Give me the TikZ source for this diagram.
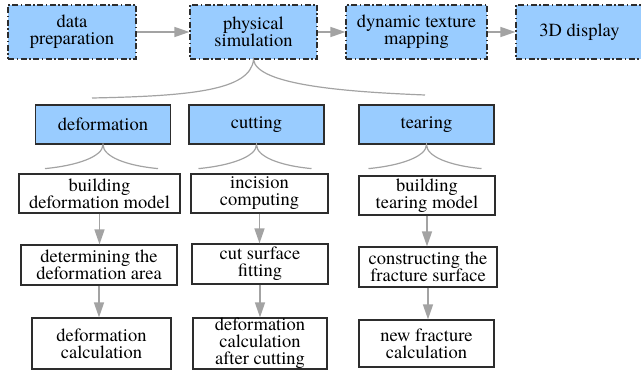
\documentclass[tikz,border=0pt]{standalone}
\usepackage{fontspec}
\setmainfont{texgyretermes}[Extension=.otf,UprightFont=*-regular,BoldFont=*-bold]
\usetikzlibrary{arrows.meta}
\definecolor{boxblue}{RGB}{153,204,255}
\definecolor{linkgray}{RGB}{163,163,163}
\definecolor{edgegray}{RGB}{45,45,45}

\tikzset{every picture/.style={line width=0.75pt}}
\tikzset{
  box/.style={draw=edgegray,line width=1.2pt,align=center,inner sep=0pt,font=\rmfamily\fontsize{18.5}{17}\selectfont},
  stage/.style={box,fill=boxblue,dash pattern=on 6pt off 2.5pt on 1.5pt off 2.5pt,minimum height=54pt},
  method/.style={box,fill=boxblue,minimum width=135pt,minimum height=39pt},
  task/.style={box,fill=white},
  link/.style={draw=linkgray,line width=1.5pt,-{Triangle[length=15pt,width=10pt]}},
  branch/.style={draw=linkgray,line width=1.2pt},
}

\begin{document}
\begin{tikzpicture}[x=1pt,y=-1pt]
	\useasboundingbox (0,0) rectangle (641,374);
	\clip (0,0) rectangle (641,374);
	% top row
	\node[stage,minimum width=128pt] (data) at (72,32) {data\\preparation};
	\node[stage,minimum width=127pt] (phys) at (253.5,32) {physical\\simulation};
	\node[stage,minimum width=141pt] (dyn) at (416.5,32) {dynamic texture\\mapping};
	\node[stage,minimum width=127pt] (disp) at (579.5,32) {3D display};
	\draw[link] (data) -- (phys);
	\draw[link] (phys) -- (dyn);
	\draw[link] (dyn) -- (disp);
	% split of the simulation
	\coordinate (sim-l) at (92,98);
	\coordinate (sim-r) at (425,95);
	\draw[branch] (sim-l) .. controls +(98,-2) and +(-3,31) .. (phys.south) .. controls +(3,26) and +(-75,-3) .. (sim-r);
	% methods
	\node[method] (def) at (103,124.5) {deformation};
	\node[method] (cut) at (256.5,124.5) {cutting};
	\node[method] (tear) at (426.5,124.5) {tearing};
	\foreach \n in {def,cut,tear}{
		\path (\n.south) ++(-58,24) coordinate (\n-l) (\n.south) ++(55,24) coordinate (\n-r);
		\draw[branch] (\n-l) .. controls +(32,-3) and +(0,12) .. (\n.south) .. controls +(0,12) and +(-32,-3) .. (\n-r);
	}
	% deformation steps
	\node[task,minimum width=161pt,minimum height=39pt] (bdm) at (99.5,193.5) {building\\deformation model};
	\node[task,minimum width=156pt,minimum height=40pt] (dta) at (99,265) {determining the\\deformation area};
	\node[task,minimum width=139pt,minimum height=51pt] (dc) at (101.5,343.5) {deformation\\calculation};
	% cutting steps
	\node[task,minimum width=137pt,minimum height=39pt] (inc) at (259.5,193.5) {incision\\computing};
	\node[task,minimum width=136pt,minimum height=40pt] (csf) at (260,264) {cut surface\\fitting};
	\node[task,minimum width=134pt,minimum height=51pt] (dcac) at (260,343.5) {deformation\\calculation\\after cutting};
	% tearing steps
	\node[task,minimum width=136pt,minimum height=39pt] (btm) at (427,195.5) {building\\tearing model};
	\node[task,minimum width=138pt,minimum height=40pt] (ctf) at (428,267) {constructing the\\fracture surface};
	\node[task,minimum width=135pt,minimum height=47pt] (nfc) at (426.5,343.5) {new fracture\\calculation};
	\draw[link] (bdm.south) -- (bdm.south |- dta.north);
	\draw[link] (dta.south) -- (dta.south |- dc.north);
	\draw[link] (inc.south) -- (inc.south |- csf.north);
	\draw[link] (csf.south) -- (csf.south |- dcac.north);
	\draw[link] (btm.south) -- (btm.south |- ctf.north);
	\draw[link] (ctf.south) -- (ctf.south |- nfc.north);
\end{tikzpicture}
\end{document}
